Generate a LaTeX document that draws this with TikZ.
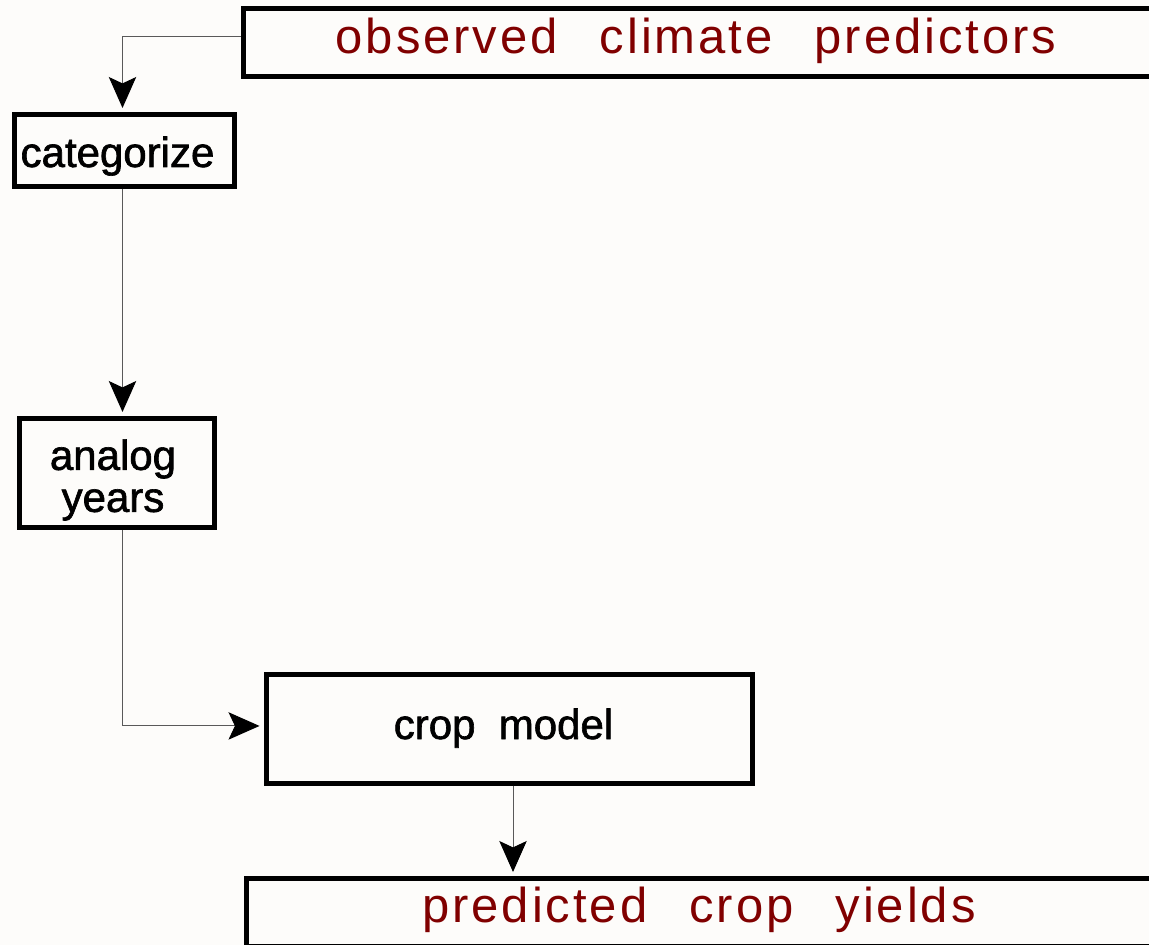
\documentclass[tikz,border=0pt]{standalone}
\usepackage{fontspec}
\setmainfont[FakeBold=1.5]{Liberation Sans}
\newfontfamily\redfont[LetterSpace=6]{Liberation Sans}
\usetikzlibrary{arrows.meta}
\definecolor{paper}{RGB}{253,252,250}
\definecolor{outred}{RGB}{128,0,0}

\begin{document}
\begin{tikzpicture}[x=0.5pt,y=-0.5pt,
    box/.style={draw=black,line width=2.5pt,rectangle,inner sep=0pt},
    lbl/.style={font=\fontsize{21pt}{21pt}\selectfont,anchor=base},
    outlbl/.style={font=\redfont\fontsize{24.5pt}{24.5pt}\selectfont,text=outred,anchor=base},
    link/.style={draw=black!65,line width=0.5pt,shorten >=2pt,
        -{Stealth[length=15.5pt,width=13.7pt,inset=3.2pt,color=black]}}]

    \useasboundingbox (0,0) rectangle (1149,945);
    \fill[paper] (0,0) rectangle (1149,945);

% boxes
\node[box,minimum width=458.25pt,minimum height=33.75pt] (obs) at (701.75,42.75){};
\node[box,minimum width=110pt,minimum height=36pt] (cat) at (124.5,150.5){};
\node[box,minimum width=97.5pt,minimum height=54.5pt] (ana) at (117,473){};
\node[box,minimum width=243pt,minimum height=54.25pt] (crop) at (509,728.75){};
\node[box,minimum width=457pt,minimum height=34pt] (yld) at (703,912.5){};

% labels
\node[outlbl] (obs-t) at (696,54){observed\hspace{21pt}climate\hspace{21pt}predictors};
\node[lbl] (cat-t) at (117.5,167){categorize};
\node[lbl,anchor=center,align=center] (ana-t) at (113,480){analog\\years};
\node[lbl] (crop-t) at (503.5,739){crop\ \ model};
\node[outlbl] (yld-t) at (699,922){predicted\hspace{21pt}crop\hspace{21pt}yields};

% connectors
\draw[link] ([yshift=2.9pt]obs.west) -| ([xshift=-1pt]cat.north);
\draw[link] ([xshift=-1pt]cat.south) -- ([xshift=-1pt]cat.south |- ana.north);
\draw[link] ([xshift=2.75pt]ana.south) |- ([yshift=1.4pt]crop.west);
\draw[link] ([xshift=2pt]crop.south) -- ([xshift=2pt]crop.south |- yld.north);

\end{tikzpicture}
\end{document}
